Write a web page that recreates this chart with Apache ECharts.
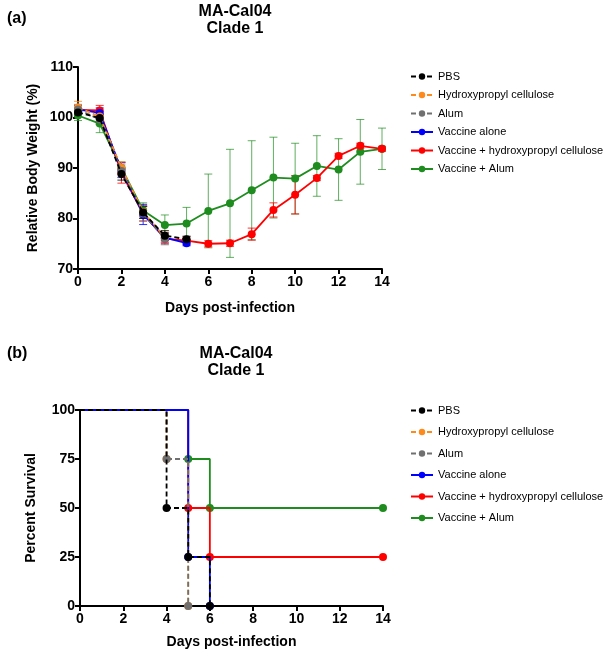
<!DOCTYPE html>
<html>
<head>
<meta charset="utf-8">
<script src="https://cdn.jsdelivr.net/npm/echarts@6/dist/echarts.min.js"></script>
<style>
  html, body { margin: 0; padding: 0; background: #fff; }
  #chartDom { width: 609px; height: 656px; }
</style>
</head>
<body>
<div id="chartDom"></div>
<script>
// series names, in legend order
const names = ['PBS', 'Hydroxypropyl cellulose', 'Alum', 'Vaccine alone',
  'Vaccine + hydroxypropyl cellulose', 'Vaccine + Alum'];
const colors = ['#000000', '#ff8a1c', '#707070', '#0000ff', '#ff0000', '#1e8c1e'];
const dashed = [true, true, true, false, false, false];

// (a) relative body weight (%), index = day post-infection
const weightPBS = [101.0, 99.9, 88.8, 81.2, 76.6, 75.9];
const weightHPC = [102.0, 100.2, 90.0, 81.3, 76.3];
const weightAlum = [101.6, 99.6, 89.4, 81.0, 76.0];
const weightVac = [101.6, 100.9, 89.6, 80.8, 76.2, 75.1];
const weightVacHPC = [101.5, 101.4, 89.0, 81.0, 76.0, 75.6, 75.0, 75.1, 76.9, 81.7, 84.7, 88.0, 92.4, 94.4, 93.8];
const weightVacAlum = [100.4, 98.8, 90.0, 81.6, 78.7, 79.0, 81.5, 83.0, 85.6, 88.1, 87.9, 90.4, 89.7, 93.2, 93.8];

// error bars (+/-)
const errPBS = [0.8, 0.8, 1.2, 1.2, 1.0, 0.6];
const errHPC = [1.2, 1.0, 1.2, 1.0, 1.0];
const errAlum = [1.0, 1.0, 1.2, 1.5, 1.2];
const errVac = [0.8, 1.0, 1.5, 2.0, 1.0, 0.5];
const errVacHPC = [0.8, 1.0, 2.0, 1.5, 1.0, 0.8, 0.6, 0.6, 1.2, 1.4, 3.8, 0.5, 0.5, 0.5, 0.5];
const errVacAlum = [1.0, 1.8, 1.2, 1.5, 2.0, 3.2, 7.3, 10.7, 9.8, 8.0, 7.0, 6.0, 6.1, 6.4, 4.1];

// (b) percent survival: [day, percent] at each step
const survPBS = [[0, 100], [4, 50], [5, 25], [6, 0]];
const survHPC = [[0, 100], [4, 75], [5, 0]];
const survAlum = [[0, 100], [4, 75], [5, 0]];
const survVac = [[0, 100], [5, 25], [6, 0]];
const survVacHPC = [[0, 100], [5, 50], [6, 25], [14, 25]];
const survVacAlum = [[0, 100], [5, 75], [6, 50], [14, 50]];

const weights = [weightPBS, weightHPC, weightAlum, weightVac, weightVacHPC, weightVacAlum];
const errs = [errPBS, errHPC, errAlum, errVac, errVacHPC, errVacAlum];
const survs = [survPBS, survHPC, survAlum, survVac, survVacHPC, survVacAlum];
const zOrder = [6, 4, 5, 3, 2, 1];

const font = '"Liberation Sans", Arial, sans-serif';

function xAxisOf(gi, gap) {
  return {
    gridIndex: gi, type: 'value', min: 0, max: 14, interval: 2,
    name: 'Days post-infection', nameLocation: 'middle', nameGap: gap,
    nameTextStyle: { fontFamily: font, fontWeight: 'bold', fontSize: 14, color: '#000' },
    axisLine: { lineStyle: { color: '#000', width: 2 } },
    axisTick: { length: 5, lineStyle: { color: '#000', width: 2 } },
    axisLabel: { fontFamily: font, fontWeight: 'bold', fontSize: 14, color: '#000', margin: 6 },
    splitLine: { show: false }
  };
}

function yAxisOf(gi, min, max, step, name, gap) {
  return {
    gridIndex: gi, type: 'value', min: min, max: max, interval: step,
    name: name, nameLocation: 'middle', nameGap: gap,
    nameTextStyle: { fontFamily: font, fontWeight: 'bold', fontSize: 14, color: '#000' },
    axisLine: { show: true, lineStyle: { color: '#000', width: 2 } },
    axisTick: { show: true, length: 5, lineStyle: { color: '#000', width: 2 } },
    axisLabel: { fontFamily: font, fontWeight: 'bold', fontSize: 14, color: '#000', margin: 5 },
    splitLine: { show: false }
  };
}

const series = [];
names.forEach((n, i) => {
  // mean line (first, so the legend takes its icon)
  series.push({
    type: 'line', name: n, xAxisIndex: 0, yAxisIndex: 0, z: zOrder[i] + 10,
    data: weights[i].map((v, d) => [d, v]),
    symbol: 'circle', symbolSize: 8,
    itemStyle: { color: colors[i] },
    lineStyle: { color: colors[i], width: 1.8, type: dashed[i] ? [5, 3] : 'solid' }
  });
  // error bars
  series.push({
    type: 'custom', name: n + ' SD', xAxisIndex: 0, yAxisIndex: 0, z: zOrder[i],
    data: weights[i].map((v, d) => [d, v - errs[i][d], v + errs[i][d]]),
    renderItem: (params, api) => {
      const lo = api.coord([api.value(0), api.value(1)]);
      const hi = api.coord([api.value(0), api.value(2)]);
      const w = 4;
      const st = { stroke: colors[i], lineWidth: 1, opacity: i === 5 ? 0.7 : 0.8 };
      return {
        type: 'group', children: [
          { type: 'line', shape: { x1: lo[0], y1: lo[1], x2: hi[0], y2: hi[1] }, style: st },
          { type: 'line', shape: { x1: lo[0] - w, y1: lo[1], x2: lo[0] + w, y2: lo[1] }, style: st },
          { type: 'line', shape: { x1: hi[0] - w, y1: hi[1], x2: hi[0] + w, y2: hi[1] }, style: st }
        ]
      };
    },
    encode: { x: 0, y: [1, 2] },
    silent: true
  });
  // survival
  series.push({
    type: 'line', name: n, xAxisIndex: 1, yAxisIndex: 1, z: zOrder[i] + 10,
    step: 'end',
    data: survs[i].map((p, k) => k === 0 ? { value: p, symbol: 'none' } : p),
    symbol: 'circle', symbolSize: 8,
    itemStyle: { color: colors[i] },
    lineStyle: { color: colors[i], width: 1.8, type: dashed[i] ? [5, 3] : 'solid' }
  });
});

const legendBase = {
  orient: 'vertical', left: 405, itemWidth: 22, itemHeight: 8,
  textStyle: { fontFamily: font, fontSize: 11, color: '#000' },
  data: names, selectedMode: false
};

const option = {
  animation: false,
  backgroundColor: '#fff',
  title: [
    { text: 'MA-Cal04\nClade 1', left: 230, top: -2, textAlign: 'center',
      textStyle: { fontFamily: font, fontWeight: 'bold', fontSize: 16, lineHeight: 17, color: '#000' } },
    { text: 'MA-Cal04\nClade 1', left: 231, top: 340, textAlign: 'center',
      textStyle: { fontFamily: font, fontWeight: 'bold', fontSize: 16, lineHeight: 17, color: '#000' } },
    { text: '(a)', left: 2, top: 6,
      textStyle: { fontFamily: font, fontWeight: 'bold', fontSize: 16, color: '#000' } },
    { text: '(b)', left: 2, top: 341,
      textStyle: { fontFamily: font, fontWeight: 'bold', fontSize: 16, color: '#000' } }
  ],
  legend: [
    Object.assign({ top: 66, itemGap: 7.5 }, legendBase),
    Object.assign({ top: 400, itemGap: 10.5 }, legendBase)
  ],
  grid: [
    { left: 78, top: 67, width: 304, height: 202 },
    { left: 80, top: 410, width: 303, height: 196 }
  ],
  xAxis: [xAxisOf(0, 32), xAxisOf(1, 29)],
  yAxis: [
    yAxisOf(0, 70, 110, 10, 'Relative Body Weight (%)', 38),
    yAxisOf(1, 0, 100, 25, 'Percent Survival', 42)
  ],
  series: series
};

const chart = echarts.init(document.getElementById('chartDom'));
chart.setOption(option);
</script>
</body>
</html>
